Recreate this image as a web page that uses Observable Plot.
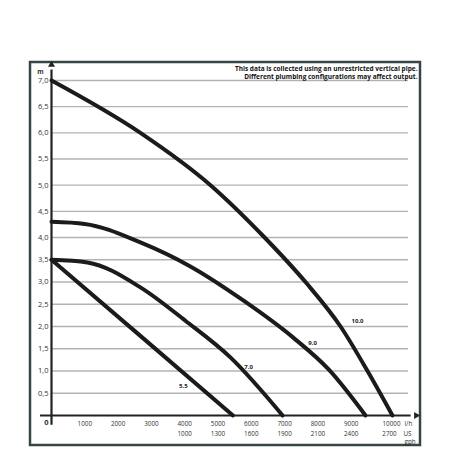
<!DOCTYPE html>
<html><head><meta charset="utf-8">
<script src="https://cdn.jsdelivr.net/npm/d3@7"></script>
<script src="https://cdn.jsdelivr.net/npm/@observablehq/plot@0.6"></script>
<style>body{margin:0;background:#fff;overflow:hidden;} #chart{width:452px;height:452px;} #chart svg{display:block;}</style>
</head><body><div id="chart"></div>
<script>
// Pump curves: flow (l/h) vs head (m)
const curveNames = ["10.0", "9.0", "7.0", "5.5"];
const flow10 = [0, 2670, 4775, 6400, 7660, 8680, 9490, 10240];
const head10 = [7.0, 6.0, 5.0, 4.0, 2.97, 2.0, 1.0, 0.0];
const flow9 = [0, 1000, 2670, 4170, 5770, 7260, 8330, 9430];
const head9 = [4.3, 4.26, 3.89, 3.35, 2.58, 1.75, 1.03, 0.0];
const flow7 = [0, 1080, 2670, 4020, 5380, 6940];
const head7 = [3.5, 3.44, 2.88, 2.13, 1.30, 0.0];
const flow55 = [0, 2730, 5450];
const head55 = [3.5, 1.75, 0.0];
// curve label positions
const labelFlow = [9190, 7840, 5920, 3960];
const labelHead = [2.13, 1.62, 1.08, 0.67];
// axes ticks
const yTicks = [0.5, 1.0, 1.5, 2.0, 2.5, 3.0, 3.5, 4.0, 4.5, 5.0, 5.5, 6.0, 6.5, 7.0];
const yTickLabels = ["0,5", "1,0", "1,5", "2,0", "2,5", "3,0", "3,5", "4,0", "4,5", "5,0", "5,5", "6,0", "6,5", "7,0"];
const xTicks = [1000, 2000, 3000, 4000, 5000, 6000, 7000, 8000, 9000, 10000];
const xTickLabels = ["1000", "2000", "3000", "4000", "5000", "6000", "7000", "8000", "9000", "10000"];
const gphTicks = [4000, 5000, 6000, 7000, 8000, 9000, 10000];
const gphLabels = ["1000", "1300", "1600", "1900", "2100", "2400", "2700"];
const titleLines = ["This data is collected using an unrestricted vertical pipe.", "Different plumbing configurations may affect output."];

const series = [[flow10, head10], [flow9, head9], [flow7, head7], [flow55, head55]];
const rows = [];
series.forEach(([f, h], i) => f.forEach((v, j) => rows.push({name: curveNames[i], flow: v, head: h[j]})));
const labels = curveNames.map((n, i) => ({name: n, flow: labelFlow[i], head: labelHead[i]}));
const yt = yTicks.map((v, i) => ({v, t: yTickLabels[i]}));
const xt = xTicks.map((v, i) => ({v, t: xTickLabels[i]}));
const gt = gphTicks.map((v, i) => ({v, t: gphLabels[i]}));

const font = "'Open Sans', sans-serif";
const plot = Plot.plot({
  width: 452, height: 452,
  marginTop: 0, marginRight: 0, marginBottom: 0, marginLeft: 0,
  x: {type: "linear", domain: [0, 10000], range: [51, 384], axis: null},
  y: {type: "linear", domain: [0, 4, 7], range: [415, 237, 80], axis: null},
  style: {fontFamily: font, background: "white", color: "#2a2a2a"},
  marks: [
    Plot.ruleY(yTicks, {x1: 0, x2: 10720, stroke: "#b3b3b3", strokeWidth: 1.3}),
    Plot.ruleY([0], {x1: -330, x2: 10800, stroke: "#222", strokeWidth: 2.2}),
    Plot.ruleX([0], {y1: -0.22, y2: 7.2, stroke: "#222", strokeWidth: 2.2}),
    Plot.dot([{x: 10950, y: 0}], {x: "x", y: "y", symbol: "triangle", r: 2.6, fill: "#222", rotate: 90}),
    Plot.dot([{x: 0, y: 7.3}], {x: "x", y: "y", symbol: "triangle", r: 2.6, fill: "#222"}),
    Plot.line(rows, {x: "flow", y: "head", z: "name", stroke: "#1b1b1b", strokeWidth: 4, curve: "monotone-x"}),
    Plot.text(labels, {x: "flow", y: "head", text: "name", fontSize: 6, fontWeight: "bold", fill: "#222"}),
    Plot.text(yt, {x: 0, y: "v", text: "t", textAnchor: "end", dx: -3, fontSize: 7.5, fill: "#333"}),
    Plot.text(["0"], {x: 0, y: 0, textAnchor: "end", dx: -3, dy: 7, fontSize: 7.5, fontWeight: "bold", fill: "#333"}),
    Plot.text(["m"], {x: 0, y: 7, dx: -11, dy: -9, fontSize: 6.5, fontWeight: "bold", fill: "#333"}),
    Plot.text(xt.filter(d => d.v < 10000), {x: "v", y: 0, text: "t", dy: 8, fontSize: 6.3, fill: "#333"}),
    Plot.text(xt.filter(d => d.v === 10000), {x: "v", y: 0, text: "t", dy: 8, dx: 7, fontSize: 6.3, fill: "#333"}),
    Plot.text(gt.filter(d => d.v < 10000), {x: "v", y: 0, text: "t", dy: 18, fontSize: 6.3, fill: "#333"}),
    Plot.text(gt.filter(d => d.v === 10000), {x: "v", y: 0, text: "t", dy: 18, dx: 5, fontSize: 6.3, fill: "#333"}),
    Plot.text(["l/h"], {x: 10000, y: 0, textAnchor: "start", dx: 20, dy: 8, fontSize: 6.3, fill: "#333"}),
    Plot.text(["US"], {x: 10000, y: 0, textAnchor: "start", dx: 19, dy: 18, fontSize: 6.3, fill: "#333"}),
    Plot.text(["gph"], {x: 10000, y: 0, textAnchor: "start", dx: 20, dy: 26, fontSize: 6.3, fill: "#333"}),
    Plot.text([titleLines.join("\n")], {frameAnchor: "top-right", textAnchor: "end", dx: -35, dy: 65, fontSize: 6.5, fontWeight: "bold", fill: "#111", lineHeight: 1.2})
  ]
});
// decorative outer frame around the chart panel
d3.select(plot).insert("rect", ":first-child")
  .attr("x", 30).attr("y", 62).attr("width", 390).attr("height", 383)
  .attr("fill", "none").attr("stroke", "#364545").attr("stroke-width", 2.5);
document.getElementById("chart").appendChild(plot);
</script>
</body></html>
